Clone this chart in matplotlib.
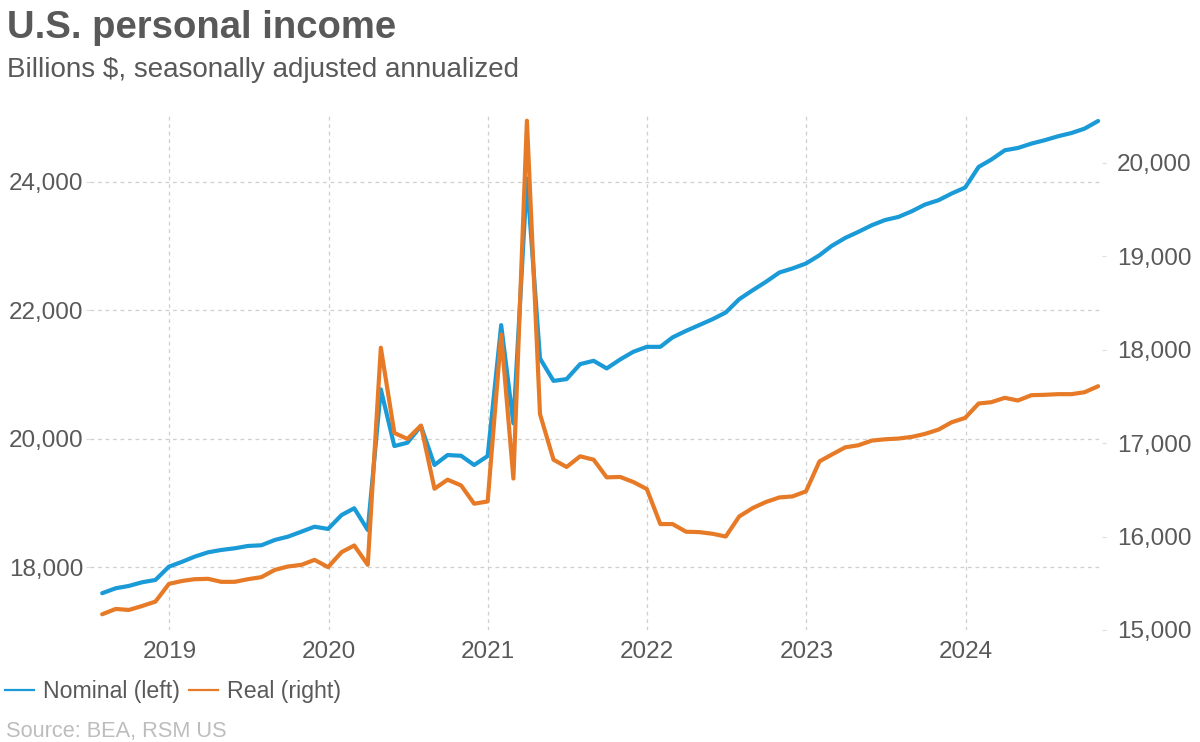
import pandas as pd
import matplotlib.pyplot as plt
import matplotlib.dates as mdates
from matplotlib.ticker import FuncFormatter, FixedLocator

plt.rcParams['font.family'] = ['Liberation Sans', 'DejaVu Sans']

# --- data (billions $, SAAR), monthly Jul 2018 - Oct 2024 ---
start_month = '2018-07-31'
end_month = '2024-10-31'

nominal = [
    17596, 17673, 17709, 17767, 17802, 18009, 18087, 18165, 18233, 18269,
    18295, 18331, 18342, 18425, 18476, 18554, 18631, 18596, 18813, 18918,
    18580, 20768, 19886, 19938, 20198, 19591, 19746, 19735, 19591, 19731,
    21768, 20239, 24050, 21250, 20900, 20928, 21161, 21213, 21094, 21234,
    21353, 21430, 21430, 21577, 21679, 21768, 21861, 21965, 22172, 22312,
    22441, 22587, 22650, 22727, 22856, 23001, 23125, 23219, 23323, 23403,
    23452, 23541, 23645, 23712, 23816, 23909, 24230, 24344, 24489, 24525,
    24593, 24645, 24707, 24758, 24826, 24945,
]
real = [
    15168, 15225, 15214, 15257, 15303, 15493, 15525, 15543, 15547, 15515,
    15515, 15543, 15565, 15643, 15679, 15697, 15750, 15672, 15833, 15904,
    15697, 18020, 17108, 17044, 17187, 16511, 16608, 16547, 16351, 16375,
    18160, 16620, 20449, 17310, 16822, 16744, 16858, 16822, 16633, 16637,
    16583, 16508, 16133, 16133, 16051, 16047, 16029, 16000, 16215, 16305,
    16369, 16418, 16429, 16483, 16804, 16876, 16954, 16976, 17026, 17040,
    17048, 17066, 17098, 17144, 17222, 17269, 17423, 17437, 17484, 17455,
    17512, 17516, 17523, 17523, 17544, 17608,
]
left_ticks = [18000, 20000, 22000, 24000]
right_ticks = [15000, 16000, 17000, 18000, 19000, 20000]
year_ticks = ['2019', '2020', '2021', '2022', '2023', '2024']
series_names = ['Nominal (left)', 'Real (right)']

# --- style ---
BLUE = '#1a9ad6'
ORANGE = '#e67a26'
TEXT = '#595959'
GRID = '#cfcfcf'
TICK_FS = 17.5

dates = pd.date_range(start_month, end_month, freq='ME')

fig = plt.figure(figsize=(12, 7.42), dpi=100)
ax = fig.add_axes([0.075, 0.151, 0.843, 0.694])
ax2 = ax.twinx()

l1, = ax.plot(dates, nominal, color=BLUE, lw=3, solid_joinstyle='round', solid_capstyle='round')
l2, = ax2.plot(dates, real, color=ORANGE, lw=3, solid_joinstyle='round', solid_capstyle='round')

ax.set_xlim(pd.Timestamp('2018-07-03'), pd.Timestamp('2024-11-08'))
ax.set_ylim(17024, 25038)
ax2.set_ylim(15000, 20510)

ax.xaxis.set_major_locator(FixedLocator([mdates.date2num(pd.Timestamp(y + '-01-01')) for y in year_ticks]))
ax.xaxis.set_major_formatter(FuncFormatter(lambda v, p: mdates.num2date(v).strftime('%Y')))
ax.set_yticks(left_ticks)
ax2.set_yticks(right_ticks)
fmt = FuncFormatter(lambda v, p: f'{v:,.0f}')
ax.yaxis.set_major_formatter(fmt)
ax2.yaxis.set_major_formatter(fmt)

for a in (ax, ax2):
    for s in a.spines.values():
        s.set_visible(False)
ax.tick_params(axis='x', length=0, pad=8, labelsize=TICK_FS, labelcolor=TEXT)
ax.tick_params(axis='y', length=3, color='#dddddd', pad=2, labelsize=TICK_FS, labelcolor=TEXT)
ax2.tick_params(axis='y', length=3, color='#dddddd', pad=8, labelsize=TICK_FS, labelcolor=TEXT)

ax.grid(True, color=GRID, lw=0.9, linestyle=(0, (3, 3)))
ax.set_axisbelow(True)

fig.text(0.006, 1 - 38 / 742, 'U.S. personal income', fontsize=27.5, fontweight='bold',
         color=TEXT, va='baseline', ha='left')
fig.text(0.006, 1 - 77 / 742, 'Billions $, seasonally adjusted annualized', fontsize=20,
         color=TEXT, va='baseline', ha='left')
fig.text(0.005, 1 - 737 / 742, 'Source: BEA, RSM US', fontsize=15.7,
         color='#bdbdbd', va='baseline', ha='left')

h1 = plt.Line2D([], [], color=BLUE, lw=1.6)
h2 = plt.Line2D([], [], color=ORANGE, lw=1.6)
fig.legend([h1, h2], series_names, loc='lower left', bbox_to_anchor=(0.004, 1 - 703 / 742),
           ncol=2, frameon=False, fontsize=16.7, handlelength=1.25, handletextpad=0.4,
           columnspacing=0.4, labelcolor=TEXT, borderaxespad=0, borderpad=0)

fig.savefig('out.png', dpi=100)
